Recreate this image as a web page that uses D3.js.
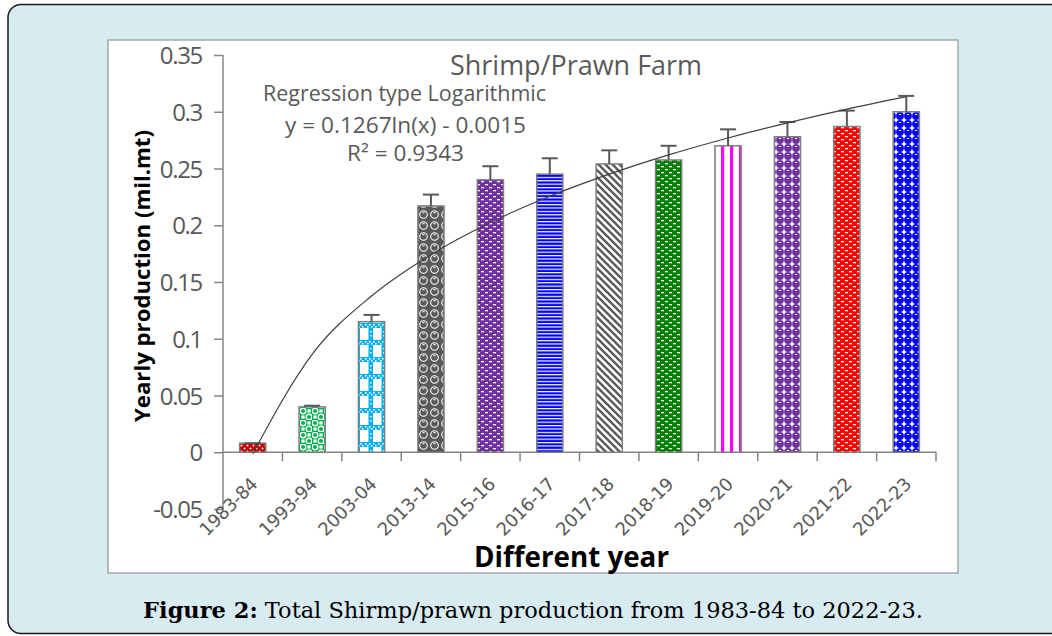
<!DOCTYPE html>
<html>
<head>
<meta charset="utf-8">
<script src="https://cdn.jsdelivr.net/npm/d3@7"></script>
<style>
	body { margin: 0; background: #ffffff; }
	svg { display: block; }
</style>
</head>
<body>
<div id="chart-area"></div>
<script>
// Shrimp/Prawn farm yearly production, bars + log trend line

var years = ["1983-84", "1993-94", "2003-04", "2013-14", "2015-16", "2016-17",
	"2017-18", "2018-19", "2019-20", "2020-21", "2021-22", "2022-23"];
var production = [0.008, 0.040, 0.115, 0.217, 0.240, 0.245, 0.254, 0.2575, 0.270, 0.278, 0.287, 0.300];
var errorPlus = [0.000, 0.001, 0.006, 0.010, 0.012, 0.014, 0.012, 0.0125, 0.0145, 0.013, 0.014, 0.014];
// logarithmic trend read at each year
var trendValues = [-0.0015, 0.0863, 0.1377, 0.1741, 0.2024, 0.2255, 0.2450, 0.2620, 0.2769, 0.2902, 0.3023, 0.3133];
var yTicks = [-0.05, 0, 0.05, 0.1, 0.15, 0.2, 0.25, 0.3, 0.35];
var yTickLabels = ["-0.05", "0", "0.05", "0.1", "0.15", "0.2", "0.25", "0.3", "0.35"];

// fill pattern for each bar (colour + kind)
var barFills = [
	{kind: "dots", color: "#c00000"},
	{kind: "rings", color: "#00b050"},
	{kind: "plaid", color: "#00b0f0"},
	{kind: "bigrings", color: "#595959"},
	{kind: "dashes", color: "#7030a0"},
	{kind: "hstripes", color: "#0000ff"},
	{kind: "diagonal", color: "#595959"},
	{kind: "dashes", color: "#008000"},
	{kind: "vstripes", color: "#ff00ff"},
	{kind: "sphere", color: "#7030a0"},
	{kind: "dashes", color: "#ff0000"},
	{kind: "sphere", color: "#0000ff"}
];

var W = 1052, H = 636;
var plot = {left: 223, right: 936, top: 55, bottom: 509};

var svg = d3.select("#chart-area")
	.append("svg")
	.attr("width", W)
	.attr("height", H);

// outer frame
svg.append("rect")
	.attr("x", 8).attr("y", 4.5)
	.attr("width", 1070).attr("height", 629)
	.attr("rx", 13)
	.attr("fill", "#d7ebf0")
	.attr("stroke", "#1a1a1a")
	.attr("stroke-width", 1.5);

// white chart panel
svg.append("rect")
	.attr("x", 108).attr("y", 40)
	.attr("width", 850).attr("height", 533)
	.attr("fill", "#ffffff")
	.attr("stroke", "#a6a6a6")
	.attr("stroke-width", 1.5);

// Patterns
var defs = svg.append("defs");

function makePattern(id, spec){
	var p = defs.append("pattern")
		.attr("id", id)
		.attr("patternUnits", "userSpaceOnUse");
	var c = spec.color;
	if (spec.kind == "dots"){
		p.attr("width", 6).attr("height", 6);
		p.append("rect").attr("width", 6).attr("height", 6).attr("fill", c);
		p.append("circle").attr("cx", 1.5).attr("cy", 1.5).attr("r", 1).attr("fill", "#fff");
		p.append("circle").attr("cx", 4.5).attr("cy", 4.5).attr("r", 1).attr("fill", "#fff");
	} else if (spec.kind == "rings"){
		p.attr("width", 12).attr("height", 12);
		p.append("rect").attr("width", 12).attr("height", 12).attr("fill", c);
		[[3, 3], [9, 9]].forEach(function(pt){
			p.append("circle").attr("cx", pt[0]).attr("cy", pt[1]).attr("r", 2.8)
				.attr("fill", "none").attr("stroke", "#fff").attr("stroke-width", 1.4);
		});
		[[9, 3], [3, 9]].forEach(function(pt){
			p.append("rect").attr("x", pt[0] - 1.6).attr("y", pt[1] - 1.6)
				.attr("width", 3.2).attr("height", 3.2).attr("fill", "#fff");
		});
	} else if (spec.kind == "bigrings"){
		p.attr("width", 11).attr("height", 11);
		p.append("rect").attr("width", 11).attr("height", 11).attr("fill", c);
		p.append("circle").attr("cx", 5.5).attr("cy", 5.5).attr("r", 3.8)
			.attr("fill", "none").attr("stroke", "#fff").attr("stroke-width", 1.1);
		p.append("rect").attr("x", 4.3).attr("y", 3.2).attr("width", 2.4).attr("height", 1).attr("fill", "#fff");
	} else if (spec.kind == "plaid"){
		p.attr("width", 13).attr("height", 17);
		p.append("rect").attr("width", 13).attr("height", 17).attr("fill", "#fff");
		p.append("rect").attr("x", 4.5).attr("width", 4.5).attr("height", 17).attr("fill", c);
		p.append("rect").attr("y", 0).attr("width", 13).attr("height", 5).attr("fill", c);
		[1, 5, 9].forEach(function(xx){
			p.append("rect").attr("x", xx).attr("y", 1).attr("width", 1.6).attr("height", 1.6).attr("fill", "#fff");
			p.append("rect").attr("x", xx + 2).attr("y", 3).attr("width", 1.6).attr("height", 1.6).attr("fill", "#fff");
		});
		[8, 12].forEach(function(yy){
			p.append("rect").attr("x", 6).attr("y", yy).attr("width", 1.5).attr("height", 1.5).attr("fill", "#fff");
		});
	} else if (spec.kind == "dashes"){
		p.attr("width", 8).attr("height", 6);
		p.append("rect").attr("width", 8).attr("height", 6).attr("fill", c);
		p.append("rect").attr("x", 1).attr("y", 1).attr("width", 3).attr("height", 1.3).attr("fill", "#fff");
		p.append("rect").attr("x", 5).attr("y", 4).attr("width", 3).attr("height", 1.3).attr("fill", "#fff");
	} else if (spec.kind == "hstripes"){
		p.attr("width", 4).attr("height", 3.4);
		p.append("rect").attr("width", 4).attr("height", 3.4).attr("fill", c);
		p.append("rect").attr("y", 0).attr("width", 4).attr("height", 1.2).attr("fill", "#fff");
	} else if (spec.kind == "diagonal"){
		p.attr("width", 7).attr("height", 7);
		p.append("rect").attr("width", 7).attr("height", 7).attr("fill", "#fff");
		p.append("path").attr("d", "M0,0L7,7M-2,5L2,9M5,-2L9,2")
			.attr("stroke", c).attr("stroke-width", 2.3);
	} else if (spec.kind == "vstripes"){
		p.attr("width", 9).attr("height", 10);
		p.append("rect").attr("width", 9).attr("height", 10).attr("fill", "#fff");
		p.append("rect").attr("x", 1).attr("width", 3.2).attr("height", 10).attr("fill", c);
	} else if (spec.kind == "sphere"){
		p.attr("width", 8).attr("height", 8);
		p.append("rect").attr("width", 8).attr("height", 8).attr("fill", "#fff");
		p.append("circle").attr("cx", 4).attr("cy", 4).attr("r", 3.9).attr("fill", c);
		p.append("rect").attr("x", 3).attr("y", 2).attr("width", 2.2).attr("height", 1).attr("fill", "#fff");
	}
}

barFills.forEach(function(spec, i){
	makePattern("fill" + i, spec);
});

// Scales
var x = d3.scaleBand()
	.domain(years)
	.range([plot.left, plot.right])
	.paddingInner(0.56)
	.paddingOuter(0.28);

var y = d3.scaleLinear()
	.domain([-0.05, 0.35])
	.range([plot.bottom, plot.top]);

var axisColor = "#868686";
var textGrey = "#595959";

// Y axis
var yAxisCall = d3.axisLeft(y)
	.tickValues(yTicks)
	.tickSize(9)
	.tickPadding(12)
	.tickFormat(function(d, i){ return yTickLabels[i]; });

var yAxisGroup = svg.append("g")
	.attr("class", "y-axis")
	.attr("transform", "translate(" + plot.left + ",0)")
	.call(yAxisCall);

yAxisGroup.select(".domain").remove();
yAxisGroup.append("line")
	.attr("x1", 0).attr("x2", 0)
	.attr("y1", y(0.35)).attr("y2", y(-0.05))
	.attr("stroke", axisColor).attr("stroke-width", 1.5);
yAxisGroup.selectAll(".tick line").attr("stroke", axisColor).attr("stroke-width", 1.5);
yAxisGroup.selectAll(".tick text")
	.attr("fill", textGrey)
	.attr("font-family", "'Open Sans', sans-serif")
	.attr("font-size", 24)
	.attr("letter-spacing", -1.3)
	.attr("dy", "0.36em");

// X axis at zero
var xAxisCall = d3.axisBottom(x).tickSize(0).tickPadding(0);
var xAxisGroup = svg.append("g")
	.attr("class", "x-axis")
	.attr("transform", "translate(0," + y(0) + ")")
	.call(xAxisCall);

xAxisGroup.select(".domain").remove();
xAxisGroup.append("line")
	.attr("x1", plot.left).attr("x2", plot.right)
	.attr("stroke", axisColor).attr("stroke-width", 1.5);

// tick marks between the categories
xAxisGroup.selectAll(".sep")
	.data(years)
	.enter()
	.append("line")
	.attr("class", "sep")
	.attr("x1", function(d){ return x(d) + x.bandwidth() + (x.step() - x.bandwidth()) / 2; })
	.attr("x2", function(d){ return x(d) + x.bandwidth() + (x.step() - x.bandwidth()) / 2; })
	.attr("y1", 0).attr("y2", 9)
	.attr("stroke", axisColor).attr("stroke-width", 1.5);

xAxisGroup.selectAll(".tick text")
	.attr("fill", textGrey)
	.attr("font-family", "'DejaVu Sans', sans-serif")
	.attr("font-size", 18)
	.attr("letter-spacing", -0.3)
	.attr("text-anchor", "end")
	.attr("dy", 0)
	.attr("y", 0)
	.attr("transform", "translate(6,33) rotate(-45)");

// Bars
svg.selectAll(".bar")
	.data(years)
	.enter()
	.append("rect")
	.attr("class", "bar")
	.attr("x", function(d){ return x(d); })
	.attr("width", x.bandwidth())
	.attr("y", function(d, i){ return y(production[i]); })
	.attr("height", function(d, i){ return y(0) - y(production[i]); })
	.attr("fill", function(d, i){ return "url(#fill" + i + ")"; })
	.attr("stroke", "#7f7f7f")
	.attr("stroke-width", 1.5);

// Error bars (plus only)
var errG = svg.append("g").attr("class", "errors");
years.forEach(function(d, i){
	var cx = x(d) + x.bandwidth() / 2;
	var yTop = y(production[i] + errorPlus[i]);
	errG.append("line")
		.attr("x1", cx).attr("x2", cx)
		.attr("y1", y(production[i])).attr("y2", yTop)
		.attr("stroke", "#595959").attr("stroke-width", 2);
	errG.append("line")
		.attr("x1", cx - 8).attr("x2", cx + 8)
		.attr("y1", yTop).attr("y2", yTop)
		.attr("stroke", "#595959").attr("stroke-width", 2);
});

// Trend line
var trendLine = d3.line()
	.x(function(d, i){ return x(years[i]) + x.bandwidth() / 2; })
	.y(function(d){ return y(d); })
	.curve(d3.curveMonotoneX);

svg.append("path")
	.datum(trendValues)
	.attr("d", trendLine)
	.attr("fill", "none")
	.attr("stroke", "#404040")
	.attr("stroke-width", 1.2);

// Titles and annotations
svg.append("text")
	.attr("x", 450).attr("y", 75)
	.attr("textLength", 252)
	.attr("lengthAdjust", "spacingAndGlyphs")
	.attr("font-family", "'Open Sans', sans-serif")
	.attr("font-size", 27)
	.attr("fill", textGrey)
	.text("Shrimp/Prawn Farm");

var notes = [
	{text: "Regression type Logarithmic", x: 263, y: 101, len: 283},
	{text: "y = 0.1267ln(x) - 0.0015", x: 285, y: 133, len: 241},
	{text: "R\u00b2 = 0.9343", x: 347, y: 161, len: 117}
];
notes.forEach(function(n){
	svg.append("text")
		.attr("x", n.x).attr("y", n.y)
		.attr("textLength", n.len)
		.attr("lengthAdjust", "spacingAndGlyphs")
		.attr("font-family", "'Open Sans', sans-serif")
		.attr("font-size", 21)
		.attr("fill", textGrey)
		.text(n.text);
});

svg.append("text")
	.attr("transform", "translate(150,276) rotate(-90)")
	.attr("text-anchor", "middle")
	.attr("textLength", 292)
	.attr("lengthAdjust", "spacingAndGlyphs")
	.attr("font-family", "'Open Sans', sans-serif")
	.attr("font-weight", "bold")
	.attr("font-size", 21)
	.attr("fill", "#000")
	.text("Yearly production (mil.mt)");

svg.append("text")
	.attr("x", 474).attr("y", 567)
	.attr("textLength", 195)
	.attr("lengthAdjust", "spacingAndGlyphs")
	.attr("font-family", "'Open Sans', sans-serif")
	.attr("font-weight", "bold")
	.attr("font-size", 28)
	.attr("fill", "#000")
	.text("Different year");

// Caption
var caption = svg.append("text")
	.attr("x", 533).attr("y", 618)
	.attr("text-anchor", "middle")
	.attr("font-family", "'DejaVu Serif', serif")
	.attr("font-size", 22.5)
	.attr("fill", "#000");
caption.append("tspan").attr("font-weight", "bold").text("Figure 2:");
caption.append("tspan").text(" Total Shirmp/prawn production from 1983-84 to 2022-23.");
</script>
</body>
</html>
